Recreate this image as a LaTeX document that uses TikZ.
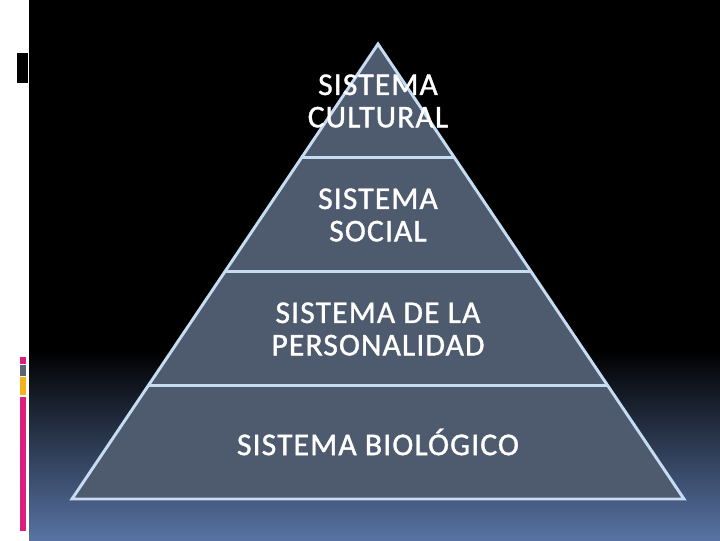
\documentclass[tikz,border=0pt]{standalone}
\usepackage{fontspec}
\setmainfont{Carlito}
\newfontfamily\tierfont[LetterSpace=3.5,FakeBold=1.2]{Carlito}
\usetikzlibrary{calc}

\definecolor{slideblue}{HTML}{5873A3}
\definecolor{tierfill}{HTML}{4E5A6D}
\definecolor{tierline}{HTML}{C6DCF2}
\definecolor{barpink}{HTML}{DC1F7E}
\definecolor{bargray}{HTML}{5A6472}
\definecolor{baryellow}{HTML}{F4B21B}

\tikzset{
  tierline/.style={draw=tierline, line width=2.1pt},
  tierlabel/.style={text=white, align=center, inner sep=0pt,
    font=\tierfont\fontsize{22.5}{23}\selectfont},
}

\begin{document}
\begin{tikzpicture}[x=0.025cm,y=-0.025cm]
  % slide background
  \useasboundingbox (0,0) rectangle (720,540);
  \fill[white] (0,0) rectangle (720,540);
  \fill[black] (29,0) rectangle (720,540);
  \shade[top color=black, bottom color=slideblue] (29,350) rectangle (720,540);

  % left margin marks
  \fill[black] (17,53) rectangle (28,83);
  \fill[barpink] (20,357) rectangle (26,364);
  \fill[bargray] (20,365) rectangle (26,376);
  \fill[baryellow] (20,377) rectangle (26,395);
  \fill[barpink] (20,397) rectangle (26,531);

  % pyramid
  \coordinate (apex) at (378,44);
  \coordinate (baseleft) at (72,499);
  \coordinate (baseright) at (684,499);
  \fill[tierfill] (apex) -- (baseright) -- (baseleft) -- cycle;
  \foreach \f in {0.25,0.5,0.75}
    \draw[tierline] ($(apex)!\f!(baseleft)$) -- ($(apex)!\f!(baseright)$);
  \draw[tierline] (apex) -- (baseright) -- (baseleft) -- cycle;

  % levels
  \node[tierlabel] (cultural) at (378,101) {SISTEMA\\CULTURAL};
  \node[tierlabel] (social) at (378,215) {SISTEMA\\SOCIAL};
  \node[tierlabel] (personal) at (378,329) {SISTEMA DE LA\\PERSONALIDAD};
  \node[tierlabel] (biologic) at (378,442) {SISTEMA BIOLÓGICO};
\end{tikzpicture}
\end{document}
